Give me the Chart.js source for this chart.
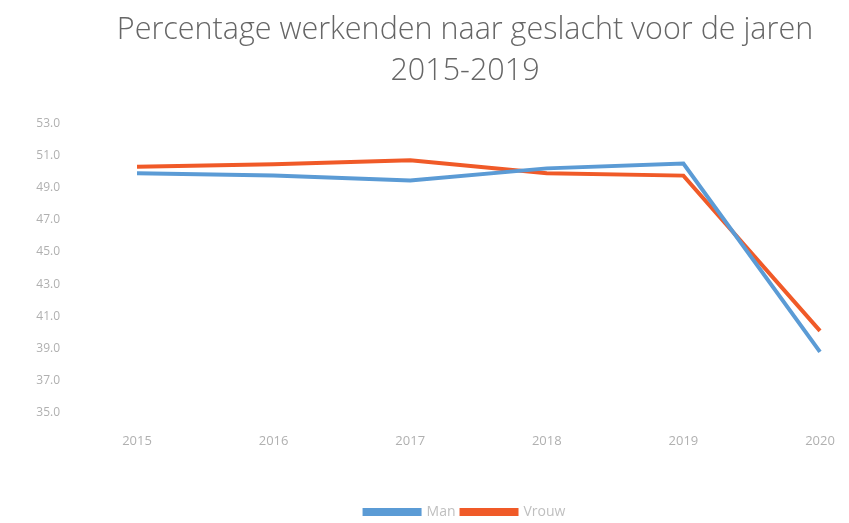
<!DOCTYPE html>
<html><head><meta charset="utf-8">
<script src="https://cdn.jsdelivr.net/npm/chart.js@4/dist/chart.umd.min.js"></script>
<style>html,body{margin:0;padding:0;background:#fff}#w{width:849px;height:523px}</style>
</head><body><div id="w"><canvas id="c"></canvas></div>
<script>
const categories = ['2015','2016','2017','2018','2019','2020'];
const manValues = [49.9, 49.75, 49.45, 50.2, 50.5, 38.8];
const vrouwValues = [50.3, 50.45, 50.7, 49.9, 49.75, 40.1];
const titleLines = ['Percentage werkenden naar geslacht voor de jaren', '2015-2019'];

const shiftBlocks = {
  id: 'shiftBlocks',
  afterLayout(chart) {
    const dx = 55;
    [chart.titleBlock, chart.legend].forEach(b => { if (b) { b.left += dx; b.right += dx; } });
    if (chart.legend) { chart.legend.top += 7; chart.legend.bottom += 7; }
  }
};

new Chart(document.getElementById('c'), {
  type: 'line',
  data: {
    labels: categories,
    datasets: [
      {label: 'Man', data: manValues, borderColor: '#5B9BD5', backgroundColor: '#5B9BD5', borderWidth: 4, pointRadius: 0, tension: 0},
      {label: 'Vrouw', data: vrouwValues, borderColor: '#F05A28', backgroundColor: '#F05A28', borderWidth: 4, pointRadius: 0, tension: 0}
    ]
  },
  plugins: [shiftBlocks],
  options: {
    responsive: true, maintainAspectRatio: false, animation: false,
    layout: {padding: {left: 0, right: 29, top: 10, bottom: 1}},
    plugins: {
      title: {display: true, text: titleLines, color: '#666666', font: {family: 'Open Sans', size: 30.5, weight: 300, lineHeight: 1.333}, padding: {top: 0, bottom: 32}},
      legend: {position: 'bottom', labels: {boxWidth: 55, boxHeight: 4, color: '#bfbfbf', font: {family: 'Open Sans', size: 14}, padding: 6}},
      tooltip: {enabled: false}
    },
    scales: {
      x: {offset: false, grid: {display: false, drawTicks: false}, border: {display: false},
          afterFit: s => { s.height = 79; s.paddingRight = 0; s.paddingLeft = 0; },
          ticks: {color: '#b0b0b0', font: {family: 'Open Sans', size: 13}, padding: 20, maxRotation: 0}},
      y: {min: 35, max: 53, grid: {display: false, drawTicks: false}, border: {display: false},
          afterFit: s => { s.width = 137; },
          ticks: {stepSize: 2, color: '#b0b0b0', font: {family: 'Open Sans', size: 12}, padding: 77,
                  callback: v => Number(v).toFixed(1)}}
    }
  }
});
</script></body></html>
